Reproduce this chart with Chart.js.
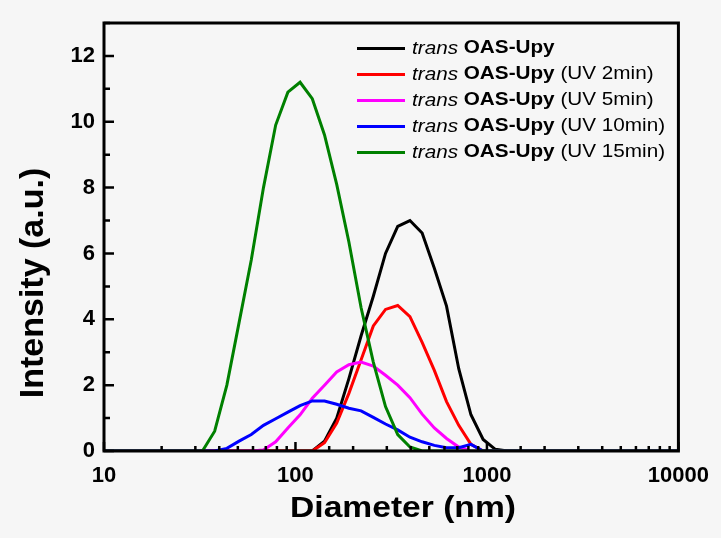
<!DOCTYPE html>
<html>
<head>
<meta charset="utf-8">
<script src="https://cdn.jsdelivr.net/npm/chart.js@4.4.0/dist/chart.umd.min.js"></script>
<style>
  html, body { margin: 0; padding: 0; background: #f6f6f6; }
  #wrap { width: 721px; height: 538px; }
</style>
</head>
<body>
<div id="wrap"><canvas id="dls" width="721" height="538"></canvas></div>
<script>
// DLS intensity distributions, Malvern size classes (nm)
const diameters = [8.721, 10.1, 11.7, 13.54, 15.69, 18.17, 21.04, 24.36, 28.21, 32.67,
  37.84, 43.82, 50.75, 58.77, 68.06, 78.82, 91.28, 105.7, 122.4, 141.8,
  164.2, 190.1, 220.2, 255.0, 295.3, 342.0, 396.1, 458.7, 531.2, 615.1,
  712.4, 825.0, 955.4, 1106, 1281, 1484, 1718, 1990, 2305, 2669,
  3091, 3580, 4145, 4801, 5560, 6439, 7456, 8635, 10000];

const uv0 = [0, 0, 0, 0, 0, 0, 0, 0, 0, 0,
  0, 0, 0, 0, 0, 0, 0, 0, 0, 0.3,
  1.0, 2.2, 3.5, 4.7, 6.0, 6.82, 7.0, 6.62, 5.55, 4.4,
  2.5, 1.1, 0.35, 0.05, 0, 0, 0, 0, 0, 0,
  0, 0, 0, 0, 0, 0, 0, 0, 0];
const uv2 = [0, 0, 0, 0, 0, 0, 0, 0, 0, 0,
  0, 0, 0, 0, 0, 0, 0, 0, 0, 0.25,
  0.85, 1.75, 2.77, 3.8, 4.3, 4.42, 4.08, 3.3, 2.45, 1.5,
  0.78, 0.2, 0, 0, 0, 0, 0, 0, 0, 0,
  0, 0, 0, 0, 0, 0, 0, 0, 0];
const uv5 = [0, 0, 0, 0, 0, 0, 0, 0, 0, 0,
  0, 0, 0, 0, 0.03, 0.28, 0.7, 1.1, 1.6, 2.0,
  2.4, 2.62, 2.7, 2.58, 2.3, 2.0, 1.62, 1.12, 0.7, 0.38,
  0.12, 0, 0, 0, 0, 0, 0, 0, 0, 0,
  0, 0, 0, 0, 0, 0, 0, 0, 0];
const uv10 = [0, 0, 0, 0, 0, 0, 0, 0, 0, 0,
  0, 0.08, 0.3, 0.5, 0.78, 0.98, 1.18, 1.38, 1.52, 1.52,
  1.42, 1.3, 1.22, 1.02, 0.82, 0.64, 0.42, 0.28, 0.17, 0.1,
  0.1, 0.2, 0, 0, 0, 0, 0, 0, 0, 0,
  0, 0, 0, 0, 0, 0, 0, 0, 0];
const uv15 = [0, 0, 0, 0, 0, 0, 0, 0, 0, 0,
  0.6, 2.0, 3.9, 5.8, 8.0, 9.9, 10.9, 11.2, 10.7, 9.6,
  8.1, 6.35, 4.35, 2.7, 1.35, 0.5, 0.12, 0, 0, 0,
  0, 0, 0, 0, 0, 0, 0, 0, 0, 0,
  0, 0, 0, 0, 0, 0, 0, 0, 0];

const xTickLabels = [10, 100, 1000, 10000];
const yTickLabels = [0, 2, 4, 6, 8, 10, 12];

// legend text: italic prefix, bold compound name, plain condition
const prefix = 'trans';
const compound = 'OAS-Upy';
const conditions = ['', '(UV 2min)', '(UV 5min)', '(UV 10min)', '(UV 15min)'];
const seriesData = [uv0, uv2, uv5, uv10, uv15];
const colors = ['#000000', '#ff0000', '#ff00ff', '#0000ff', '#008000'];

const FONT = "'Liberation Sans', Arial, sans-serif";

const decorations = {
  id: 'decorations',
  afterDatasetsDraw(chart) {
    const { ctx, chartArea: a, scales: { x, y } } = chart;
    ctx.save();
    ctx.strokeStyle = '#000';
    ctx.lineWidth = 2.5;
    ctx.beginPath();
    x.ticks.forEach(t => {
      const px = x.getPixelForValue(t.value);
      const len = xTickLabels.includes(t.value) ? 9 : 5;
      ctx.moveTo(px, a.bottom);
      ctx.lineTo(px, a.bottom - len);
    });
    y.ticks.forEach(t => {
      const py = y.getPixelForValue(t.value);
      const len = yTickLabels.includes(t.value) ? 10 : 6;
      ctx.moveTo(a.left, py);
      ctx.lineTo(a.left + len, py);
    });
    ctx.stroke();
    ctx.lineWidth = 3;
    ctx.strokeRect(a.left, a.top, a.right - a.left, a.bottom - a.top);
    ctx.restore();
  },
  afterDraw(chart) {
    const { ctx, chartArea: a } = chart;
    ctx.save();
    ctx.fillStyle = '#000';

    // legend
    const lx = a.left + 253;
    chart.data.datasets.forEach((ds, i) => {
      const ly = a.top + 25.5 + i * 26;
      ctx.strokeStyle = ds.borderColor;
      ctx.lineWidth = 3;
      ctx.beginPath();
      ctx.moveTo(lx, ly);
      ctx.lineTo(lx + 48, ly);
      ctx.stroke();

      ctx.save();
      ctx.translate(lx + 55, ly);
      ctx.scale(1.15, 1);
      ctx.textBaseline = 'middle';
      ctx.textAlign = 'left';
      const parts = [
        ['italic 18px ' + FONT, prefix + ' '],
        ['bold 18px ' + FONT, compound],
        ['18px ' + FONT, conditions[i] ? ' ' + conditions[i] : '']
      ];
      let cx = 0;
      parts.forEach(([font, txt]) => {
        ctx.font = font;
        ctx.fillText(txt, cx, 0);
        cx += ctx.measureText(txt).width;
      });
      ctx.restore();
    });

    // axis titles
    ctx.save();
    ctx.font = 'bold 30px ' + FONT;
    ctx.textAlign = 'center';
    ctx.textBaseline = 'alphabetic';
    ctx.translate(a.left + 299, a.bottom + 66);
    ctx.scale(1.12, 1);
    ctx.fillText('Diameter (nm)', 0, 0);
    ctx.restore();

    ctx.save();
    ctx.font = 'bold 34px ' + FONT;
    ctx.textAlign = 'center';
    ctx.textBaseline = 'alphabetic';
    ctx.translate(43, a.top + 260);
    ctx.rotate(-Math.PI / 2);
    ctx.fillText('Intensity (a.u.)', 0, 0);
    ctx.restore();

    ctx.restore();
  }
};

const datasets = seriesData.map((vals, i) => ({
  label: prefix + ' ' + compound + (conditions[i] ? ' ' + conditions[i] : ''),
  data: diameters.map((d, k) => ({ x: d, y: vals[k] })),
  borderColor: colors[i],
  borderWidth: 3,
  pointRadius: 0,
  tension: 0,
  fill: false,
  order: seriesData.length - i   // later series drawn on top
}));

new Chart(document.getElementById('dls'), {
  type: 'line',
  data: { datasets },
  plugins: [decorations],
  options: {
    responsive: false,
    animation: false,
    layout: { padding: { top: 23, right: 40, left: 0, bottom: 0 } },
    plugins: { legend: { display: false }, tooltip: { enabled: false } },
    scales: {
      x: {
        type: 'logarithmic',
        min: 10,
        max: 10000,
        grid: { display: false, drawTicks: false },
        border: { display: false },
        afterFit: s => { s.height = 87; },
        ticks: {
          autoSkip: false,
          maxRotation: 0,
          padding: 12,
          color: '#000',
          font: { family: FONT, size: 22, weight: 'bold' },
          callback: v => xTickLabels.includes(v) ? String(v) : ''
        }
      },
      y: {
        min: 0,
        max: 13,
        grid: { display: false, drawTicks: false },
        border: { display: false },
        afterFit: s => { s.width = 104; },
        ticks: {
          stepSize: 1,
          padding: 9,
          color: '#000',
          font: { family: FONT, size: 22, weight: 'bold' },
          callback: v => yTickLabels.includes(v) ? String(v) : ''
        }
      }
    }
  }
});
</script>
</body>
</html>
